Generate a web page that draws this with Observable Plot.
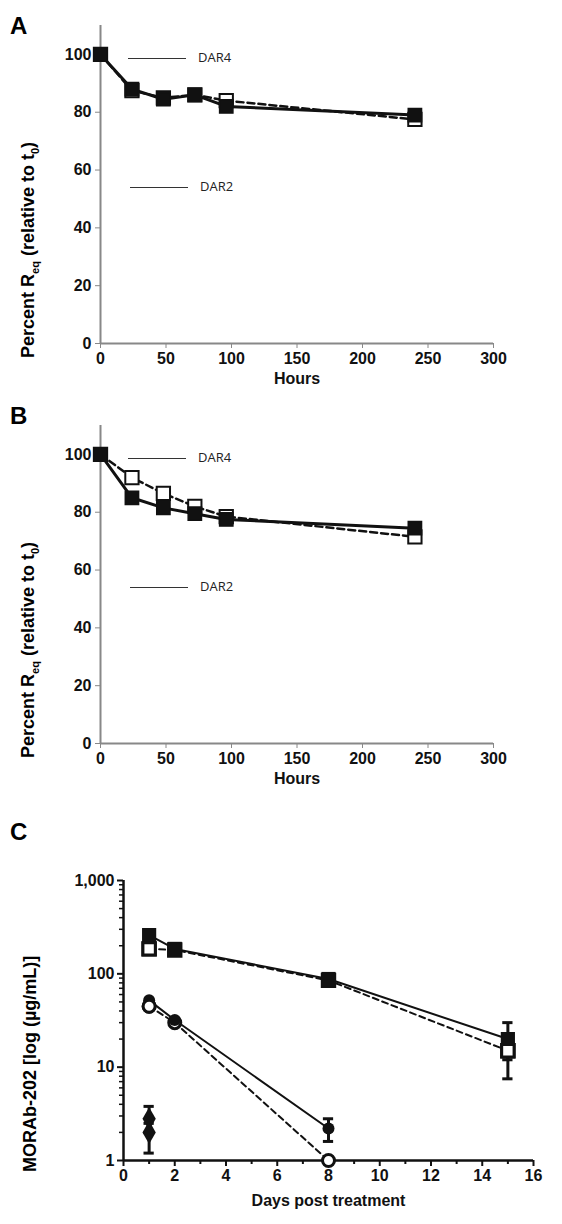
<!DOCTYPE html>
<html><head><meta charset="utf-8">
<script src="https://cdn.jsdelivr.net/npm/d3@7"></script>
<script src="https://cdn.jsdelivr.net/npm/@observablehq/plot@0.6"></script>
<style>
body{margin:0;background:#fff;font-family:"Liberation Sans",Arial,sans-serif}
#wrap{position:relative;width:562px;height:1224px}
.p{position:absolute;left:0}
.lab{position:absolute;font-weight:bold;font-size:24px}
.ylab{position:absolute;font-weight:bold;font-size:18px;transform:rotate(-90deg);transform-origin:left top;white-space:nowrap}
.ylab sub{font-size:11px}
.leg{position:absolute;font-family:"Open Sans",sans-serif;font-size:13px;color:#222}
.leg span{display:inline-block;width:58px;border-top:1px solid #333;vertical-align:middle;margin-right:12px}
</style></head><body>
<div id="wrap">
<div id="a" class="p" style="top:0"></div>
<div id="b" class="p" style="top:400px"></div>
<div id="c" class="p" style="top:800px"></div>
<div class="lab" style="left:10px;top:12px">A</div>
<div class="lab" style="left:10px;top:402px">B</div>
<div class="lab" style="left:10px;top:818px">C</div>
<div class="ylab" style="left:18px;top:358px">Percent R<sub>eq</sub> (relative to t<sub>0</sub>)</div>
<div class="ylab" style="left:18px;top:758px">Percent R<sub>eq</sub> (relative to t<sub>0</sub>)</div>
<div class="ylab" style="left:20px;top:1172px">MORAb-202 [log (µg/mL)]</div>
<div class="leg" style="left:128px;top:48px"><span></span>DAR4</div>
<div class="leg" style="left:130px;top:177px"><span></span>DAR2</div>
<div class="leg" style="left:128px;top:448px"><span></span>DAR4</div>
<div class="leg" style="left:130px;top:577px"><span></span>DAR2</div>
</div>
<script>
const hours = [0, 24, 48, 72, 96, 240]
const aFilled = [100, 88, 84.5, 86, 82, 79]
const aOpen = [100, 87.5, 85, 86, 84, 77.5]
const bFilled = [100, 85, 81.5, 79.5, 77.5, 74.5]
const bOpen = [100, 92, 86.5, 82, 78.5, 71.5]

const days = [1, 2, 8, 15]
const sqFilled = [260, 185, 88, 20]
const sqOpen = [185, 180, 85, 15]
const daysC = [1, 2, 8]
const ciFilled = [52, 32, 2.2]
const ciOpen = [45, 30, 1]
// error bars: [day, low, high]
const errs = [[15, 12, 30], [15, 7.5, 14], [8, 1.6, 2.8], [1, 2.5, 3.8], [1, 1.2, 2]]
const diamonds = [{d: 1, v: 2.8}, {d: 1, v: 2}]

function rows(xs, ys) { return xs.map((x, i) => ({x, y: ys[i]})) }

function hourPlot(el, filled, open) {
  const f = rows(hours, filled), o = rows(hours, open)
  const chart = Plot.plot({
    width: 562, height: 400, marginTop: 25, marginBottom: 57, marginLeft: 100, marginRight: 69,
    style: {fontFamily: "Liberation Sans, Arial", fontSize: "16px", fontWeight: "bold", color: "#111"},
    x: {domain: [0, 300]},
    y: {domain: [0, 110]},
    marks: [
      Plot.ruleX([0], {stroke: "#888", strokeWidth: 2}),
      Plot.ruleY([0], {stroke: "#888", strokeWidth: 2}),
      Plot.axisX({ticks: d3.range(0, 301, 50), tickSize: 5, stroke: "#888", label: "Hours", labelAnchor: "center", labelOffset: 40, labelArrow: "none", fontSize: 16}),
      Plot.axisY({ticks: d3.range(0, 101, 20), tickSize: 5, stroke: "#888", label: null, fontSize: 16}),
      Plot.line(o, {x: "x", y: "y", stroke: "#111", strokeWidth: 2.5, strokeDasharray: "7,4"}),
      Plot.line(f, {x: "x", y: "y", stroke: "#111", strokeWidth: 3}),
      Plot.dot(o, {x: "x", y: "y", symbol: "square", r: 7.5, fill: "white", stroke: "#111", strokeWidth: 2}),
      Plot.dot(f, {x: "x", y: "y", symbol: "square", r: 7.5, fill: "#111", stroke: "#111"})
    ]
  })
  document.getElementById(el).append(chart)
}
hourPlot("a", aFilled, aOpen)
hourPlot("b", bFilled, bOpen)

const minorY = [2,3,4,5,6,7,8,9,20,30,40,50,60,70,80,90,200,300,400,500,600,700,800,900]
const cap = 0.2
const sqO = rows(days, sqOpen), sqF = rows(days, sqFilled)
const ciO = rows(daysC, ciOpen), ciF = rows(daysC, ciFilled)
const openSq = {symbol: "square", r: 7, fill: "white", stroke: "#111", strokeWidth: 3}
const openCi = {r: 6, fill: "white", stroke: "#111", strokeWidth: 3}
const chartC = Plot.plot({
  width: 562, height: 424, marginTop: 80, marginBottom: 64, marginLeft: 123, marginRight: 29,
  style: {fontFamily: "Liberation Sans, Arial", fontSize: "16px", fontWeight: "bold", color: "#111"},
  x: {domain: [0, 16]},
  y: {type: "log", domain: [1, 1000]},
  marks: [
    Plot.ruleX([0], {stroke: "#111", strokeWidth: 2.5}),
    Plot.ruleY([1], {stroke: "#111", strokeWidth: 2.5}),
    Plot.axisX({ticks: d3.range(0, 17, 2), tickSize: 6, strokeWidth: 2, label: "Days post treatment", labelAnchor: "center", labelOffset: 45, labelArrow: "none", fontSize: 16}),
    Plot.axisX({ticks: d3.range(1, 16, 2), tickSize: 4, strokeWidth: 2, tickFormat: () => "", label: null}),
    Plot.axisY({ticks: [1, 10, 100, 1000], tickFormat: ",", tickSize: 6, strokeWidth: 2, label: null, fontSize: 16}),
    Plot.axisY({ticks: minorY, tickFormat: () => "", tickSize: 4, strokeWidth: 1.5, label: null}),
    Plot.ruleX(errs, {x: d => d[0], y1: d => d[1], y2: d => d[2], stroke: "#111", strokeWidth: 3}),
    Plot.ruleY(errs.flatMap(d => [[d[0], d[1]], [d[0], d[2]]]), {y: d => d[1], x1: d => d[0] - cap, x2: d => d[0] + cap, stroke: "#111", strokeWidth: 3}),
    Plot.line(sqO, {x: "x", y: "y", stroke: "#111", strokeWidth: 2, strokeDasharray: "6,4"}),
    Plot.line(sqF, {x: "x", y: "y", stroke: "#111", strokeWidth: 2}),
    Plot.line(ciO, {x: "x", y: "y", stroke: "#111", strokeWidth: 2, strokeDasharray: "6,4"}),
    Plot.line(ciF, {x: "x", y: "y", stroke: "#111", strokeWidth: 2}),
    Plot.dot(sqO, {x: "x", y: "y", ...openSq}),
    Plot.dot(sqF, {x: "x", y: "y", symbol: "square", r: 8, fill: "#111"}),
    Plot.dot(sqO.filter(d => d.x === 1 || d.x === 15), {x: "x", y: "y", ...openSq}),
    Plot.dot(ciO, {x: "x", y: "y", ...openCi}),
    Plot.dot(ciF, {x: "x", y: "y", r: 6, fill: "#111"}),
    Plot.dot(ciO.filter(d => d.x === 1), {x: "x", y: "y", ...openCi}),
    Plot.dot(diamonds, {x: "d", y: "v", symbol: "diamond", r: 7, fill: "#111"})
  ]
})
document.getElementById("c").append(chartC)
</script>
</body></html>
